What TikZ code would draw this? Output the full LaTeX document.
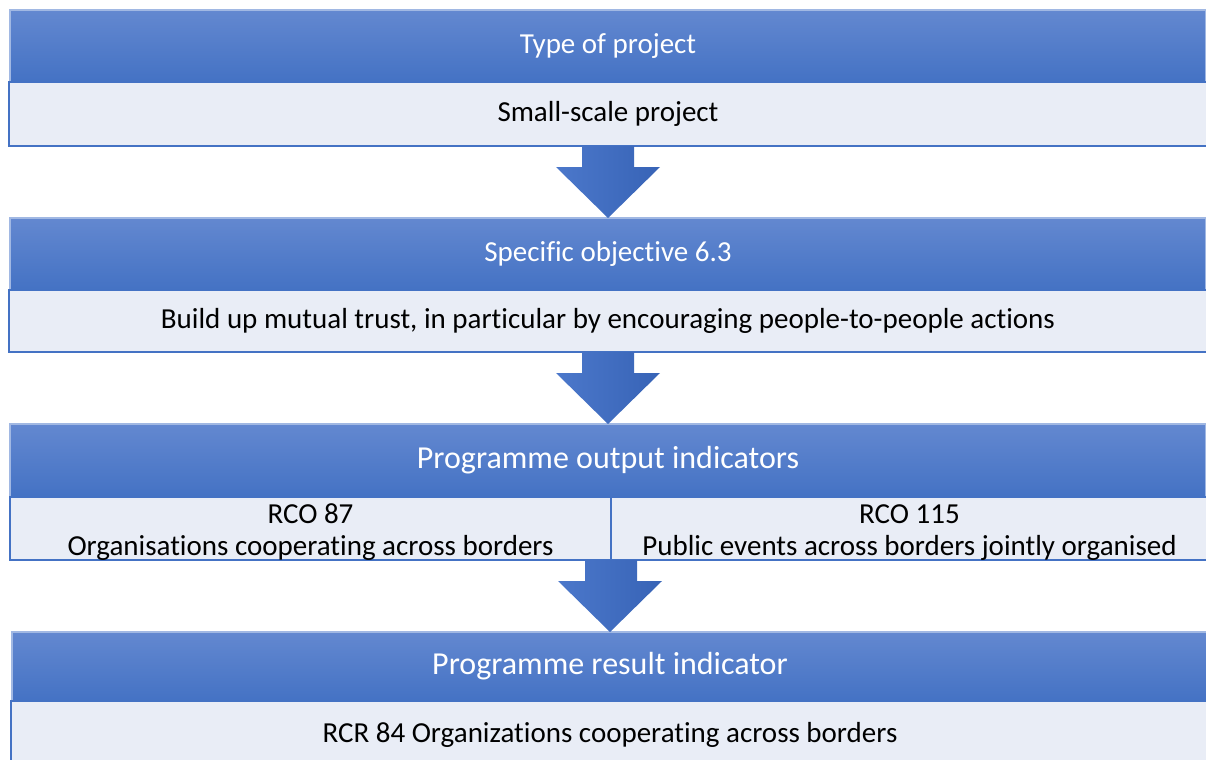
\documentclass[tikz,border=0pt]{standalone}
\usepackage{fontspec}
\setmainfont{Carlito}[Ligatures=CommonOff]
\usetikzlibrary{positioning, calc}

\definecolor{hdrtop}{RGB}{99,136,208}
\definecolor{hdrbot}{RGB}{68,114,196}
\definecolor{bodyfill}{RGB}{233,237,246}
\definecolor{arrowblue}{RGB}{60,108,198}

\begin{document}
\begin{tikzpicture}[x=0.5pt, y=-0.5pt, node distance=36pt,
          hdr/.style={minimum width=598pt, minimum height=36pt, inner sep=0pt, outer sep=0pt,
            top color=hdrtop, bottom color=hdrbot, draw=hdrtop!60!white, semithick,
            text=white, font=\fontsize{14.5}{16}\selectfont},
          txtbox/.style={minimum width=599pt, inner sep=0pt, outer sep=0pt, align=center,
            fill=bodyfill, draw=hdrbot, thick, text=black, font=\fontsize{14.5}{16}\selectfont},
          blockarrow/.style={left color=arrowblue!92!white, right color=arrowblue!92!black}]
        \useasboundingbox (0,0) rectangle (1206,760);
        \node[hdr] (type) at (608,46) {Type of project};
        \node[txtbox, minimum height=32pt, below=0pt of type] (small) {Small-scale project};
        \node[hdr, below=of small] (spec) {Specific objective 6.3};
        \node[txtbox, minimum height=31pt, below=0pt of spec] (trust) {Build up mutual trust, in particular by encouraging people-to-people actions};
        \node[hdr, minimum height=36.5pt, font=\fontsize{16}{18}\selectfont, below=of trust] (outhdr) {Programme output indicators};
        \node[txtbox, minimum width=300.5pt, minimum height=31.5pt, text height=28pt, text depth=1pt, below=0pt of outhdr.south west, anchor=north west] (rco87) {RCO 87\\Organisations cooperating across borders};
        \node[txtbox, minimum width=298.5pt, minimum height=31.5pt, text height=28pt, text depth=1pt, right=0pt of rco87] (rco115) {RCO 115\\Public events across borders jointly organised};
        \node[hdr, minimum height=34.5pt, font=\fontsize{16}{18}\selectfont, below=36pt of rco87.south east, anchor=north, xshift=-0.5pt] (reshdr) {Programme result indicator};
        \node[txtbox, minimum height=34pt, below=0pt of reshdr] (rcr84) {RCR 84 Organizations cooperating across borders};
        % block arrows between the stages
        \foreach \a/\b in {small.south/spec, trust.south/outhdr, rco87.south east/reshdr}
          \shade[blockarrow] ($(\a)+(-26,0)$) |- ($(\b.north)+(-52,-51)$) -- (\b.north)
            -- ++(52,-51) -| ($(\a)+(26,0)$) -- cycle;
      \end{tikzpicture}
\end{document}
